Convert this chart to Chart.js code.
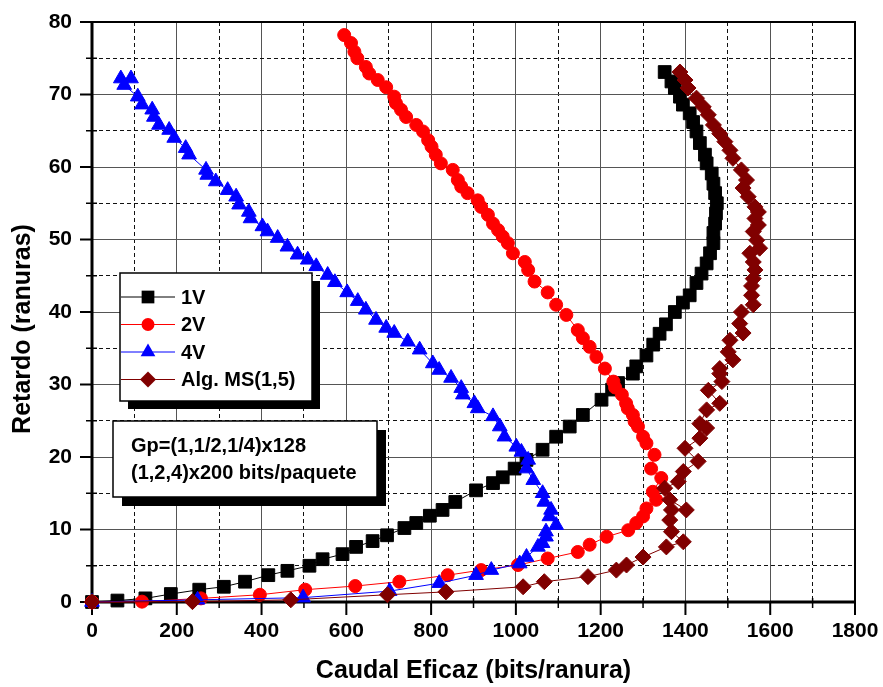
<!DOCTYPE html>
<html>
<head>
<meta charset="utf-8">
<script src="https://cdn.jsdelivr.net/npm/chart.js@4.4.0/dist/chart.umd.min.js"></script>
<style>
html,body{margin:0;padding:0;background:#ffffff;}
#wrap{width:883px;height:687px;position:relative;}
</style>
</head>
<body>
<div id="wrap"><canvas id="c" width="883" height="687"></canvas></div>
<script>
// ---------- text ----------
const xTitle = 'Caudal Eficaz (bits/ranura)';
const yTitle = 'Retardo (ranuras)';
const seriesNames = ['1V', '2V', '4V', 'Alg. MS(1,5)'];
const noteLines = ['Gp=(1,1/2,1/4)x128', '(1,2,4)x200 bits/paquete'];
const xTickLabels = ['0','200','400','600','800','1000','1200','1400','1600','1800'];
const yTickLabels = ['0','10','20','30','40','50','60','70','80'];

// ---------- data (x: caudal, y: retardo) ----------
const v1x = [0,60,126,186,253,311,361,416,461,513,544,591,623,662,696,737,765,797,827,857,906,946,969,997,1025,1063,1095,1127,1158,1202,1227,1241,1276,1284,1308,1324,1339,1354,1375,1394,1410,1426,1438,1450,1458,1466,1466,1470,1472,1474,1470,1466,1462,1450,1446,1434,1426,1418,1410,1394,1387,1375,1367,1351];
const v1y = [0,0.2,0.5,1.1,1.7,2.1,2.8,3.7,4.3,5.0,5.9,6.6,7.6,8.4,9.2,10.2,10.9,11.9,12.7,13.8,15.4,16.4,17.2,18.4,19.6,21.0,22.8,24.2,25.8,27.9,29.3,30.2,31.5,32.5,34.0,35.5,37.0,38.3,40.0,41.3,42.3,44.0,45.3,46.7,48.1,49.5,50.9,52.2,53.6,55.0,56.4,57.7,59.1,60.5,61.7,63.3,64.9,66.2,67.4,68.6,69.7,70.9,71.8,73.1];

const v2x = [0,118,257,396,503,621,725,839,918,1005,1075,1146,1174,1214,1265,1284,1300,1308,1331,1323,1343,1319,1327,1308,1300,1288,1280,1276,1264,1260,1250,1234,1230,1210,1190,1174,1158,1146,1119,1095,1075,1044,1029,1021,993,981,969,958,946,934,918,910,886,871,863,851,823,811,801,793,781,765,741,729,717,713,694,674,654,646,626,619,611,595];
const v2y = [0,0.05,0.5,1.0,1.7,2.2,2.8,3.7,4.4,5.1,6.0,6.9,7.9,9.0,9.9,10.9,11.8,12.9,14.1,15.2,17.1,18.4,20.3,21.9,22.8,24.2,24.9,25.8,26.7,27.4,28.6,29.6,30.4,32.2,33.8,35.2,36.4,37.5,39.6,41.0,42.7,44.2,45.8,46.9,48.1,49.5,50.4,51.3,52.2,53.4,54.5,55.4,56.4,57.3,58.2,59.6,60.5,61.7,62.8,63.7,64.9,65.8,66.9,67.9,68.8,69.7,71.0,72.0,72.9,73.8,75.0,75.9,77.1,78.2];

const v4x = [0,249,498,702,819,906,942,1009,1025,1052,1063,1071,1071,1095,1079,1083,1067,1063,1041,1025,1029,1013,1001,973,962,946,910,902,875,871,847,819,804,773,745,713,694,670,646,627,602,573,556,529,509,485,461,438,414,402,374,370,347,340,320,292,272,269,229,221,194,182,158,146,142,118,108,76,92,68];
const v4y = [0,0.3,0.6,1.5,2.6,3.7,4.4,5.3,6.2,7.6,8.1,9.0,9.7,10.6,11.8,12.7,13.8,15.0,16.8,18.4,19.6,20.7,21.4,22.8,24.2,25.6,26.7,27.4,28.6,29.5,30.9,32.0,32.9,34.8,35.9,37.1,37.8,38.9,40.3,41.5,42.7,44.1,45.1,46.3,47.2,47.9,49.0,50.2,51.1,51.8,52.9,53.8,54.8,55.9,56.8,58.0,58.9,59.6,61.7,62.6,64.0,65.1,65.8,66.9,67.9,68.6,69.7,71.3,72.2,72.2];

const msx = [0,237,469,697,835,1017,1067,1170,1237,1261,1300,1355,1395,1367,1363,1367,1402,1363,1351,1383,1395,1430,1399,1434,1450,1434,1450,1481,1454,1486,1481,1481,1512,1501,1505,1536,1528,1532,1560,1556,1556,1560,1564,1560,1552,1575,1568,1560,1572,1564,1572,1564,1548,1536,1544,1532,1512,1505,1493,1481,1466,1454,1442,1426,1406,1399,1387];
const msy = [0,0.05,0.3,1.0,1.4,2.1,2.8,3.5,4.4,5.1,6.2,7.6,8.3,9.7,11.3,12.7,12.7,14.1,15.7,16.6,18.0,19.4,21.2,22.6,24.0,24.6,26.5,27.4,29.2,30.4,31.5,32.2,33.4,34.5,36.1,37.1,38.4,40.0,41.0,42.3,43.6,44.6,45.8,46.9,48.1,48.8,49.9,51.1,52.0,52.9,53.8,54.5,55.9,57.1,58.2,59.6,61.2,62.3,63.5,64.6,65.8,67.2,68.3,69.5,70.9,72.0,73.1];

// ---------- styles ----------
const FONT = '"Liberation Sans", Arial, Helvetica, sans-serif';
const styles = [
  {color:'#000000', shape:'rect',     r:9,   order:3},
  {color:'#ff0000', shape:'circle',   r:6.5, order:2},
  {color:'#0000ff', shape:'triangle', r:8.5, order:1},
  {color:'#800000', shape:'rectRot',  r:8,   order:0}
];
const xsAll = [v1x, v2x, v4x, msx];
const ysAll = [v1y, v2y, v4y, msy];

function zip(xs, ys){ return xs.map((x,i)=>({x:x, y:ys[i]})); }

const datasets = seriesNames.map((name,i)=>({
  label: name,
  data: zip(xsAll[i], ysAll[i]),
  showLine: true,
  borderColor: styles[i].color,
  backgroundColor: styles[i].color,
  borderWidth: 1,
  pointStyle: styles[i].shape,
  pointRadius: styles[i].r,
  pointBorderWidth: 1,
  pointBorderColor: styles[i].color,
  pointBackgroundColor: styles[i].color,
  tension: 0,
  clip: false,
  order: styles[i].order
}));

function drawShape(ctx, shape, x, y, r){
  ctx.beginPath();
  if (shape === 'rect'){
    const s = Math.SQRT1_2 * r;
    ctx.rect(x - s, y - s, 2*s, 2*s);
  } else if (shape === 'circle'){
    ctx.arc(x, y, r, 0, Math.PI*2);
  } else if (shape === 'triangle'){
    ctx.moveTo(x, y - r);
    ctx.lineTo(x + Math.sin(2*Math.PI/3)*r, y - Math.cos(2*Math.PI/3)*r);
    ctx.lineTo(x + Math.sin(4*Math.PI/3)*r, y - Math.cos(4*Math.PI/3)*r);
  } else if (shape === 'rectRot'){
    ctx.moveTo(x - r, y); ctx.lineTo(x, y - r); ctx.lineTo(x + r, y); ctx.lineTo(x, y + r);
  }
  ctx.closePath();
  ctx.fill();
}

const framePlugin = {
  id: 'frame',
  beforeDatasetsDraw(chart){
    const ctx = chart.ctx;
    const {left, right, top, bottom} = chart.chartArea;
    const xs = chart.scales.x, ys = chart.scales.y;
    ctx.save();
    ctx.strokeStyle = '#000';
    ctx.lineCap = 'butt';
    xs.ticks.forEach(t => {
      const px = xs.getPixelForValue(t.value);
      const major = t.value % 200 === 0;
      ctx.lineWidth = major ? 2 : 1.5;
      ctx.beginPath();
      if (major){ ctx.moveTo(px, bottom); ctx.lineTo(px, bottom + 13); }
      else { ctx.moveTo(px, bottom - 4); ctx.lineTo(px, bottom + 6); }
      ctx.stroke();
    });
    ys.ticks.forEach(t => {
      const py = ys.getPixelForValue(t.value);
      const major = t.value % 10 === 0;
      ctx.lineWidth = major ? 2 : 1.5;
      ctx.beginPath();
      if (major){ ctx.moveTo(left - 12, py); ctx.lineTo(left, py); }
      else { ctx.moveTo(left - 6, py); ctx.lineTo(left + 5, py); }
      ctx.stroke();
    });
    ctx.lineWidth = 2;
    ctx.beginPath(); ctx.moveTo(left, top); ctx.lineTo(right, top); ctx.lineTo(right, bottom); ctx.stroke();
    ctx.lineWidth = 3;
    ctx.beginPath(); ctx.moveTo(left, top - 1); ctx.lineTo(left, bottom); ctx.lineTo(right + 1, bottom); ctx.stroke();
    ctx.restore();
  },
  afterDatasetsDraw(chart){
    const ctx = chart.ctx;
    ctx.save();
    const L = {x:120, y:273, w:192, h:128, sh:8};
    ctx.fillStyle = '#000';
    ctx.fillRect(L.x + L.sh, L.y + L.sh, L.w, L.h);
    ctx.fillStyle = '#fff';
    ctx.fillRect(L.x, L.y, L.w, L.h);
    ctx.strokeStyle = '#000'; ctx.lineWidth = 1.5;
    ctx.strokeRect(L.x, L.y, L.w, L.h);
    ctx.font = 'bold 20px ' + FONT;
    ctx.textBaseline = 'middle';
    ctx.textAlign = 'left';
    seriesNames.forEach((name, i) => {
      const cy = 297 + i * 27.5;
      ctx.strokeStyle = styles[i].color; ctx.lineWidth = 1;
      ctx.beginPath(); ctx.moveTo(L.x + 1, cy); ctx.lineTo(L.x + 55, cy); ctx.stroke();
      ctx.fillStyle = styles[i].color;
      drawShape(ctx, styles[i].shape, L.x + 28, cy, styles[i].r);
      ctx.fillStyle = '#000';
      ctx.fillText(name, L.x + 61, cy + 1);
    });
    const N = {x:113, y:421, w:264, h:76, sh:9};
    ctx.fillStyle = '#000';
    ctx.fillRect(N.x + N.sh, N.y + N.sh, N.w, N.h);
    ctx.fillStyle = '#fff';
    ctx.fillRect(N.x, N.y, N.w, N.h);
    ctx.strokeStyle = '#000'; ctx.lineWidth = 1.5;
    ctx.strokeRect(N.x, N.y, N.w, N.h);
    ctx.fillStyle = '#000';
    noteLines.forEach((t, i) => ctx.fillText(t, N.x + 18, 446 + i * 27.5));
    ctx.translate(23.5, 329);
    ctx.rotate(-Math.PI / 2);
    ctx.textAlign = 'center';
    ctx.font = 'bold 25px ' + FONT;
    ctx.fillText(yTitle, 0, 0);
    ctx.restore();
  }
};

new Chart(document.getElementById('c'), {
  type: 'scatter',
  data: { datasets: datasets },
  plugins: [framePlugin],
  options: {
    responsive: false,
    animation: false,
    devicePixelRatio: 1,
    layout: { padding: { top: 22, right: 28, left: 0, bottom: 0 } },
    plugins: { legend: { display: false }, tooltip: { enabled: false } },
    scales: {
      x: {
        type: 'linear', min: 0, max: 1800,
        afterFit: s => { s.height = 85; s.paddingLeft = 0; s.paddingRight = 0; },
        ticks: {
          stepSize: 100, autoSkip: false, maxRotation: 0, padding: 17, color: '#000',
          font: { family: FONT, size: 21, weight: 'bold' },
          callback: v => (v % 200 === 0 ? xTickLabels[v / 200] : '')
        },
        grid: {
          drawTicks: false, lineWidth: 1,
          color: c => (c.tick && c.tick.value % 200 === 0 ? '#555555' : '#111111')
        },
        border: { display: false, dash: c => (c.tick && c.tick.value % 200 === 0 ? [] : [4, 3]) },
        title: { display: true, text: xTitle, color: '#000', font: { family: FONT, size: 25, weight: 'bold' }, padding: { top: 0, bottom: 1 } }
      },
      y: {
        type: 'linear', min: 0, max: 80,
        afterFit: s => { s.width = 92; s.paddingTop = 0; s.paddingBottom = 0; },
        ticks: {
          stepSize: 5, autoSkip: false, padding: 20, color: '#000',
          font: { family: FONT, size: 21, weight: 'bold' },
          callback: v => (v % 10 === 0 ? yTickLabels[v / 10] : '')
        },
        grid: {
          drawTicks: false, lineWidth: 1,
          color: c => (c.tick && c.tick.value % 10 === 0 ? '#555555' : '#111111')
        },
        border: { display: false, dash: c => (c.tick && c.tick.value % 10 === 0 ? [] : [4, 3]) },
        title: { display: false }
      }
    }
  }
});
</script>
</body>
</html>
